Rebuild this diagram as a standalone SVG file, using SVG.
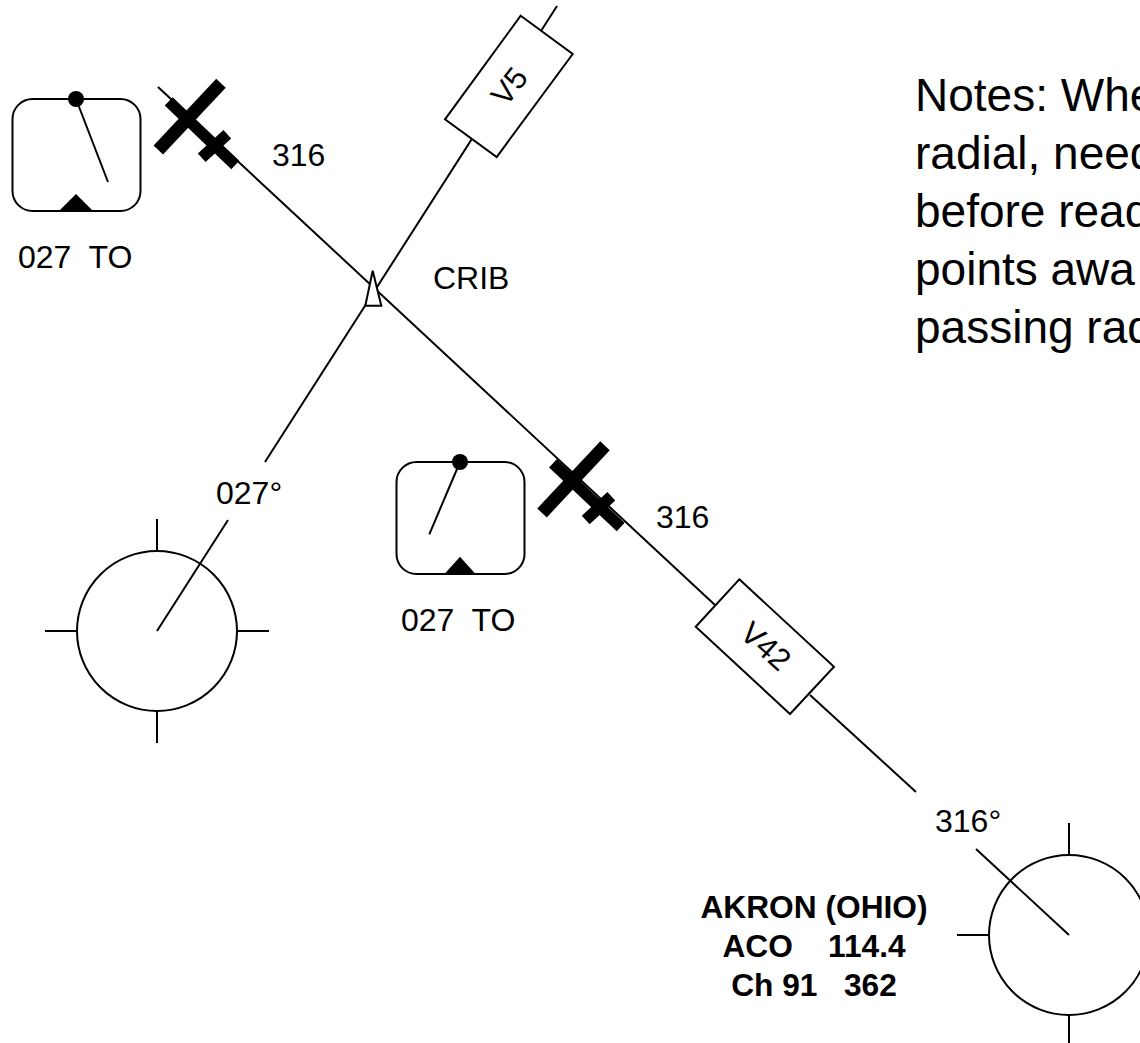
<svg xmlns="http://www.w3.org/2000/svg" width="1140" height="1043" viewBox="0 0 1140 1043">
<style>
text{font-family:"Liberation Sans",Arial,sans-serif;fill:#000;white-space:pre}
.l{font-size:32px}
.r{font-size:31px;text-anchor:middle}
.b{font-size:31.7px;font-weight:bold;text-anchor:middle}
.n{font-size:46px}
.s{fill:none;stroke:#000;stroke-width:2;stroke-linecap:butt}
.w{fill:#fff;stroke:#000;stroke-width:2}
.t{stroke:#000;stroke-width:13;fill:none}
.u{stroke:#000;stroke-width:11.500;fill:none}
.f{fill:#000;stroke:none}
</style>
<rect width="1140" height="1043" fill="#fff"/>
<g id="connectors">
<path class="s" d="M158 87L715 605M810 695L916 792"/>
<path class="s" d="M265 462L557 6"/>
<path class="s" d="M228 520L157 631"/>
<path class="s" d="M976 849L1069 935"/>
</g>
<g id="vor-crib-marker"><path class="w" d="M372.700 270.700L381.300 305.700H365.300Z"/></g>
<g id="airway-v5">
<path class="w" d="M520.700 15.700L572.700 54L496.700 157L445 119.300Z"/>
<text class="r" transform="translate(509 86) rotate(-52)" y="11">V5</text>
</g>
<g id="airway-v42">
<path class="w" d="M739.300 579.300L834 666.700L790 714L695.700 626.700Z"/>
<text class="r" transform="translate(766 646) rotate(42)" y="11">V42</text>
</g>
<g id="indicator-1">
<rect class="s" x="12.500" y="99" width="128" height="112" rx="20"/>
<path class="s" d="M76 99L108 182"/>
<circle class="f" cx="76" cy="99" r="8"/>
<path class="f" d="M58 212L76 194L94 212Z"/>
<text class="l" x="18" y="268">027  TO</text>
</g>
<g id="indicator-2">
<rect class="s" x="396.500" y="462" width="128" height="112" rx="20"/>
<path class="s" d="M460 462L429.300 534.300"/>
<circle class="f" cx="460" cy="462" r="8"/>
<path class="f" d="M444 574.500L460 556.700L476 574.500Z"/>
<text class="l" x="401" y="631">027  TO</text>
</g>
<g id="fix-1">
<path class="t" d="M221 83.300L158.300 150"/>
<path class="u" d="M168.700 101.300L235.300 165M227.300 134.300L201.700 157.700"/>
<text class="l" x="272" y="166">316</text>
</g>
<g id="fix-2">
<path class="t" d="M605 445.700L542 513"/>
<path class="u" d="M553 463.300L620.700 527M611.300 496.300L585.700 520"/>
<text class="l" x="656" y="528">316</text>
</g>
<g id="label-crib"><text class="l" x="433" y="289">CRIB</text></g>
<g id="vor-left">
<circle class="s" cx="157" cy="631" r="80"/>
<path class="s" d="M157 519V551M157 711V743M45 631H77M237 631H269"/>
<text class="l" x="216" y="504">027°</text>
</g>
<g id="vor-akron">
<circle class="s" cx="1069" cy="935" r="80"/>
<path class="s" d="M1069 823V855M1069 1015V1043M957 935H989"/>
<text class="l" x="935" y="832">316°</text>
<text class="b" x="814" y="918">AKRON (OHIO)</text>
<text class="b" x="814" y="957">ACO    114.4</text>
<text class="b" x="814" y="996">Ch 91   362</text>
</g>
<g id="notes">
<text class="n" x="915" y="110.500">Notes: Whe</text>
<text class="n" x="915" y="168.500">radial, need</text>
<text class="n" x="915" y="226.500">before read</text>
<text class="n" x="915" y="284.500">points awa</text>
<text class="n" x="915" y="342.500">passing rad</text>
</g>
</svg>
